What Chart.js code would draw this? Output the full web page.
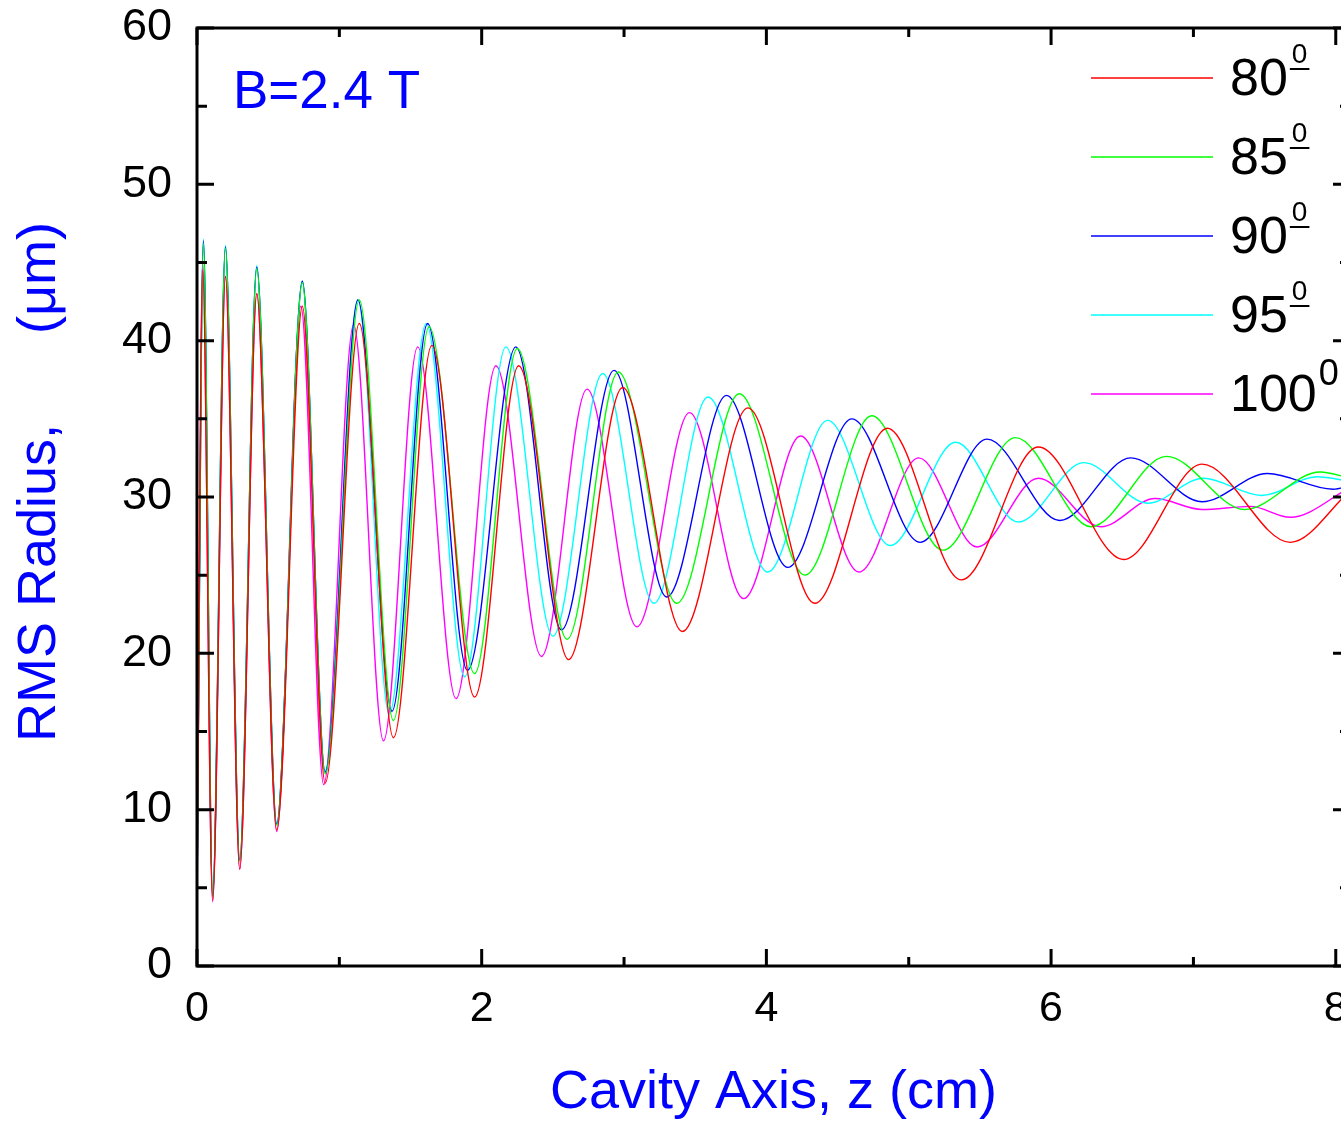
<!DOCTYPE html>
<html>
<head>
<meta charset="utf-8">
<script src="https://cdn.jsdelivr.net/npm/chart.js@4.4.1/dist/chart.umd.min.js"></script>
<style>
html, body { margin: 0; padding: 0; background: #fff; overflow: hidden; }
#wrap { width: 1341px; height: 1121px; overflow: hidden; }
</style>
</head>
<body>
<div id="wrap"><canvas id="chart_rms" width="1400" height="1121"></canvas></div>
<script>
// tick labels
const x_ticks = [0, 2, 4, 6, 8]
const x_minor_ticks = [1, 3, 5, 7]
const y_ticks = [0, 10, 20, 30, 40, 50, 60]
const y_minor_ticks = [5, 15, 25, 35, 45, 55]

const series_labels = ['80', '85', '90', '95', '100']
const series_colors = ['#ff0000', '#00ff00', '#0000ff', '#00ffff', '#ff00ff']

// z (cm) / RMS radius (um), read at peaks and troughs
const z_80 = [0, 0.04, 0.11, 0.20, 0.30, 0.42, 0.56, 0.74, 0.90, 1.14, 1.38, 1.65, 1.95, 2.26, 2.61, 2.99, 3.41, 3.87, 4.34, 4.85, 5.37, 5.91, 6.51, 7.06, 7.68, 8.1]
const r_80 = [4.5, 44.5, 4.2, 44.1, 6.2, 43.0, 8.7, 42.2, 11.7, 41.1, 14.6, 39.7, 17.2, 38.4, 19.6, 37.0, 21.4, 35.7, 23.2, 34.4, 24.7, 33.2, 26.0, 32.1, 27.1, 30.4]

const z_85 = [0, 0.045, 0.11, 0.20, 0.30, 0.42, 0.56, 0.74, 0.90, 1.14, 1.38, 1.63, 1.95, 2.25, 2.60, 2.96, 3.37, 3.81, 4.27, 4.74, 5.24, 5.75, 6.28, 6.81, 7.36, 7.89, 8.1]
const r_85 = [4.5, 46.2, 4.4, 45.9, 6.7, 44.6, 9.0, 43.7, 12.3, 42.6, 15.7, 40.9, 18.7, 39.5, 20.9, 38.0, 23.2, 36.6, 25.0, 35.2, 26.6, 33.8, 28.1, 32.6, 29.2, 31.6, 31.2]

const z_90 = [0, 0.045, 0.11, 0.20, 0.30, 0.42, 0.56, 0.74, 0.90, 1.13, 1.37, 1.62, 1.90, 2.24, 2.56, 2.93, 3.30, 3.72, 4.15, 4.60, 5.08, 5.55, 6.06, 6.56, 7.06, 7.52, 7.98, 8.1]
const r_90 = [4.5, 46.4, 4.5, 46.0, 6.8, 44.7, 9.1, 43.8, 12.4, 42.6, 16.3, 41.1, 18.9, 39.6, 21.5, 38.1, 23.6, 36.5, 25.5, 35.0, 27.1, 33.7, 28.5, 32.5, 29.7, 31.5, 30.5, 30.7]

const z_95 = [0, 0.045, 0.11, 0.20, 0.30, 0.42, 0.56, 0.74, 0.90, 1.13, 1.35, 1.61, 1.88, 2.17, 2.50, 2.85, 3.21, 3.59, 4.01, 4.43, 4.87, 5.33, 5.77, 6.23, 6.68, 7.07, 7.48, 7.87, 8.1]
const r_95 = [4.5, 46.5, 4.6, 46.1, 6.8, 44.8, 9.1, 43.8, 12.5, 42.6, 16.1, 41.1, 18.5, 39.6, 21.1, 37.9, 23.2, 36.4, 25.2, 34.9, 26.9, 33.5, 28.4, 32.2, 29.6, 31.2, 30.1, 31.3, 31.0]

const z_100 = [0, 0.04, 0.11, 0.20, 0.30, 0.42, 0.56, 0.73, 0.89, 1.10, 1.31, 1.55, 1.82, 2.10, 2.42, 2.74, 3.09, 3.46, 3.84, 4.24, 4.65, 5.07, 5.48, 5.91, 6.35, 6.73, 7.06, 7.40, 7.68, 8.1]
const r_100 = [3.5, 45.0, 4.1, 44.1, 6.2, 43.0, 8.6, 42.2, 11.6, 41.0, 14.4, 39.6, 17.1, 38.4, 19.8, 36.9, 21.7, 35.4, 23.5, 33.9, 25.2, 32.5, 26.8, 31.2, 28.1, 29.9, 29.2, 29.4, 28.7, 30.6]

const series_z = [z_80, z_85, z_90, z_95, z_100]
const series_r = [r_80, r_85, r_90, r_95, r_100]

const font_family = "'Liberation Sans', Arial, sans-serif"

function make_points(zs, rs) {
    return zs.map((z, i) => ({x: z, y: rs[i]}))
}

// frame with inward ticks, legend and field label
const frame_plugin = {
    id: 'frame_plugin',
    afterDatasetsDraw(chart) {
        const ctx = chart.ctx
        const area = chart.chartArea
        const sx = chart.scales.x
        const sy = chart.scales.y
        ctx.save()
        ctx.strokeStyle = '#000'
        ctx.lineWidth = 3
        ctx.strokeRect(area.left, area.top, area.right - area.left, area.bottom - area.top)

        ctx.beginPath()
        const tick_x = (v, len) => {
            const px = sx.getPixelForValue(v)
            ctx.moveTo(px, area.bottom); ctx.lineTo(px, area.bottom - len)
            ctx.moveTo(px, area.top); ctx.lineTo(px, area.top + len)
        }
        const tick_y = (v, len) => {
            const py = sy.getPixelForValue(v)
            ctx.moveTo(area.left, py); ctx.lineTo(area.left + len, py)
            ctx.moveTo(area.right, py); ctx.lineTo(area.right - len, py)
        }
        x_ticks.forEach((v) => tick_x(v, 17))
        x_minor_ticks.forEach((v) => tick_x(v, 9))
        y_ticks.forEach((v) => tick_y(v, 17))
        y_minor_ticks.forEach((v) => tick_y(v, 10))
        ctx.stroke()

        // legend
        chart.data.datasets.forEach((ds, i) => {
            const row = 78 + i * 79
            ctx.strokeStyle = ds.borderColor
            ctx.lineWidth = 1.3
            ctx.beginPath()
            ctx.moveTo(1091, row)
            ctx.lineTo(1213, row)
            ctx.stroke()

            ctx.fillStyle = '#000'
            ctx.strokeStyle = '#000'
            ctx.textAlign = 'left'
            ctx.textBaseline = 'alphabetic'
            ctx.font = '52px ' + font_family
            ctx.fillText(ds.label, 1230, row + 17)
            const w = ctx.measureText(ds.label).width
            if (i < 4) {
                ctx.font = '28px ' + font_family
                ctx.fillText('0', 1230 + w + 4, row - 15)
                const sw = ctx.measureText('0').width
                ctx.lineWidth = 2
                ctx.beginPath()
                ctx.moveTo(1230 + w + 2, row - 9)
                ctx.lineTo(1230 + w + sw + 6, row - 9)
                ctx.stroke()
            } else {
                ctx.font = '36px ' + font_family
                ctx.fillText('0', 1230 + w + 2, row - 9)
            }
        })

        ctx.fillStyle = '#0000ff'
        ctx.font = '53px ' + font_family
        ctx.textAlign = 'left'
        ctx.fillText('B=2.4 T', area.left + 36, area.top + 80)
        ctx.restore()
    }
}

const chart_rms = new Chart(document.getElementById('chart_rms'), {
    type: 'line',
    data: {
        datasets: series_labels.map((label, i) => ({
            label: label,
            data: make_points(series_z[i], series_r[i]),
            borderColor: series_colors[i],
            borderWidth: 1.4,
            pointRadius: 0,
            fill: false,
            cubicInterpolationMode: 'monotone'
        }))
    },
    options: {
        responsive: false,
        animation: false,
        layout: {
            padding: {top: 28, right: 50, left: 0, bottom: 0}
        },
        plugins: {
            legend: {display: false},
            tooltip: {enabled: false}
        },
        scales: {
            x: {
                type: 'linear',
                min: 0,
                max: 8.1,
                afterBuildTicks: (s) => { s.ticks = x_ticks.map((v) => ({value: v})) },
                afterFit: (s) => { s.height = 155 },
                grid: {display: false},
                border: {display: false},
                ticks: {
                    color: '#000',
                    padding: 9,
                    maxRotation: 0,
                    autoSkip: false,
                    font: {family: font_family, size: 43}
                },
                title: {
                    display: true,
                    text: 'Cavity Axis, z (cm)',
                    color: '#0000ff',
                    font: {family: font_family, size: 54},
                    padding: {top: 0, bottom: -5}
                }
            },
            y: {
                type: 'linear',
                min: 0,
                max: 60,
                afterBuildTicks: (s) => { s.ticks = y_ticks.map((v) => ({value: v})) },
                afterFit: (s) => {
                    s.width = 197
                    s.paddingTop = 0
                    s.paddingBottom = 0
                },
                grid: {display: false},
                border: {display: false},
                ticks: {
                    color: '#000',
                    padding: 17,
                    font: {family: font_family, size: 45}
                },
                title: {
                    display: true,
                    text: '  RMS Radius,      (μm)',
                    color: '#0000ff',
                    font: {family: font_family, size: 54},
                    padding: {top: 8, bottom: 0}
                }
            }
        }
    },
    plugins: [frame_plugin]
})
</script>
</body>
</html>
